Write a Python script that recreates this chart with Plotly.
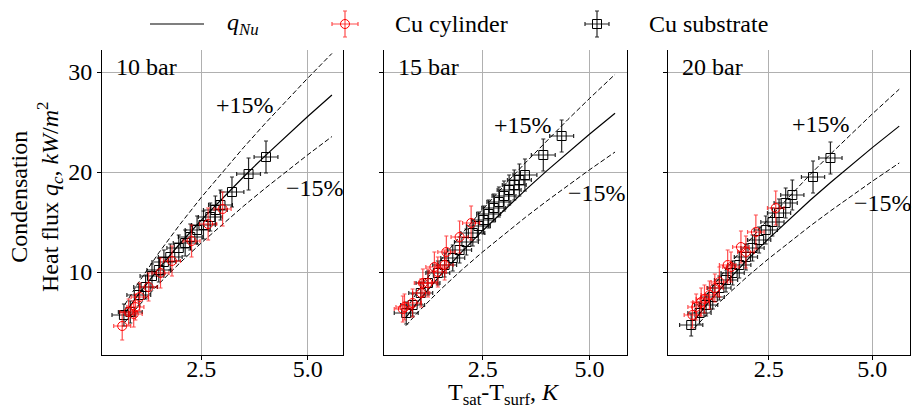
import plotly.graph_objects as go

FONT = "Liberation Serif"
W, H = 914, 412

panel_names = ["10 bar", "15 bar", "20 bar"]

# Nusselt prediction q_Nu (kW/m^2) vs subcooling (K)
nu_dT_10 = [0.7, 1.0, 1.5, 2.0, 2.5, 3.0, 3.5, 4.0, 4.5, 5.0, 5.57]
nu_q_10 = [5.85, 7.64, 10.36, 12.85, 15.19, 17.42, 19.55, 21.61, 23.60, 25.55, 27.70]
nu_dT_15 = [0.7, 1.0, 1.5, 2.0, 2.5, 3.0, 3.5, 4.0, 4.5, 5.0, 5.6]
nu_q_15 = [5.44, 7.11, 9.64, 11.96, 14.13, 16.21, 18.19, 20.11, 21.97, 23.78, 25.88]
nu_dT_20 = [0.7, 1.0, 1.5, 2.0, 2.5, 3.0, 3.5, 4.0, 4.5, 5.0, 5.65]
nu_q_20 = [5.14, 6.71, 9.09, 11.29, 13.34, 15.30, 17.17, 18.98, 20.73, 22.44, 24.59]

# Cu substrate (black squares)
sub_dT_10 = [0.68, 0.83, 1.03, 1.19, 1.34, 1.50, 1.62, 1.77, 1.97, 2.12, 2.24, 2.40, 2.55, 2.71, 2.83, 2.95, 3.22, 3.61, 4.02]
sub_q_10 = [5.7, 6.0, 7.7, 8.5, 9.6, 10.2, 11.0, 11.5, 12.4, 12.9, 13.5, 14.2, 14.7, 15.5, 16.2, 16.7, 18.0, 19.8, 21.5]
sub_qerr_10 = [1.1, 1.1, 1.1, 1.2, 1.2, 1.2, 1.2, 1.3, 1.3, 1.3, 1.3, 1.4, 1.4, 1.4, 1.4, 1.5, 1.5, 1.6, 1.6]
sub_dT_15 = [0.71, 0.86, 1.05, 1.22, 1.45, 1.61, 1.80, 1.96, 2.12, 2.27, 2.40, 2.52, 2.64, 2.76, 2.88, 3.00, 3.12, 3.24, 3.36, 3.49, 3.92, 4.35]
sub_q_15 = [5.9, 6.7, 7.9, 8.9, 9.9, 10.7, 11.4, 12.2, 13.0, 13.9, 14.6, 15.2, 15.8, 16.4, 17.0, 17.6, 18.2, 18.7, 19.2, 19.7, 21.7, 23.6]
sub_qerr_15 = [1.1, 1.1, 1.1, 1.2, 1.2, 1.2, 1.3, 1.3, 1.3, 1.3, 1.4, 1.4, 1.4, 1.4, 1.5, 1.5, 1.5, 1.5, 1.6, 1.6, 1.6, 1.6]
sub_dT_20 = [0.63, 0.83, 0.99, 1.15, 1.31, 1.47, 1.63, 1.79, 1.95, 2.11, 2.27, 2.43, 2.59, 2.75, 2.91, 3.07, 3.57, 3.99]
sub_q_20 = [4.7, 5.9, 6.7, 7.5, 8.4, 9.2, 9.9, 10.7, 11.5, 12.4, 13.2, 14.2, 15.0, 15.9, 16.9, 17.7, 19.5, 21.4]
sub_qerr_20 = [1.1, 1.1, 1.1, 1.2, 1.2, 1.2, 1.2, 1.3, 1.3, 1.3, 1.3, 1.4, 1.4, 1.4, 1.5, 1.5, 1.6, 1.6]
sub_dTerr = 0.28

# Cu cylinder (red circles)
cyl_dT_10 = [0.64, 0.79, 0.91, 0.95, 1.05, 1.26, 1.54, 1.81, 2.27, 2.66, 3.00]
cyl_q_10 = [4.6, 6.0, 5.8, 6.5, 7.5, 8.5, 9.9, 11.1, 13.1, 14.8, 16.3]
cyl_qerr_10 = [1.4, 1.3, 1.3, 1.3, 1.4, 1.4, 1.5, 1.5, 1.6, 1.6, 1.7]
cyl_dT_15 = [0.63, 0.67, 0.86, 1.06, 1.10, 1.22, 1.37, 1.45, 1.61, 1.65, 1.96, 2.23]
cyl_q_15 = [6.3, 6.5, 6.9, 7.9, 8.9, 8.9, 10.5, 10.0, 10.7, 12.0, 13.5, 14.9]
cyl_qerr_15 = [1.3, 1.3, 1.4, 1.4, 1.4, 1.4, 1.5, 1.5, 1.5, 1.6, 1.6, 1.7]
cyl_dT_20 = [0.66, 0.75, 0.87, 0.95, 1.07, 1.20, 1.31, 1.51, 1.59, 1.83, 1.95, 2.19, 2.67]
cyl_q_20 = [5.7, 6.5, 7.0, 7.3, 7.7, 8.4, 9.0, 10.7, 10.5, 12.5, 12.0, 14.0, 16.4]
cyl_qerr_20 = [1.3, 1.3, 1.4, 1.4, 1.4, 1.4, 1.5, 1.5, 1.5, 1.6, 1.6, 1.7, 1.7]
cyl_dTerr = 0.2

band = 0.15
x_ranges = [[0.165, 5.83], [0.19, 5.88], [0.07, 5.91]]
y_range = [1.7, 33.2]
x_ticks = [2.5, 5.0]
x_ticklabels = ["2.5", "5.0"]
y_ticks = [10, 20, 30]

# label positions (data coords) of the +/-15 % tags
plus_pos = [(3.53, 26.7), (3.44, 24.7), (3.77, 24.8)]
minus_pos = [(5.17, 18.4), (5.18, 17.9), (5.26, 16.9)]

# panel pixel boxes -> paper domains
px_boxes = [(102, 343), (384, 627), (668, 910)]
py_top, py_bot = 40, 355

panels = [
    (nu_dT_10, nu_q_10, sub_dT_10, sub_q_10, sub_qerr_10, cyl_dT_10, cyl_q_10, cyl_qerr_10),
    (nu_dT_15, nu_q_15, sub_dT_15, sub_q_15, sub_qerr_15, cyl_dT_15, cyl_q_15, cyl_qerr_15),
    (nu_dT_20, nu_q_20, sub_dT_20, sub_q_20, sub_qerr_20, cyl_dT_20, cyl_q_20, cyl_qerr_20),
]

fig = go.Figure()
tfont = dict(family=FONT, size=24, color="black")

for i, (ndT, nq, sdT, sq, sqe, cdT, cq, cqe) in enumerate(panels):
    n = "" if i == 0 else str(i + 1)
    xa, ya = "x" + n, "y" + n
    fig.add_trace(go.Scatter(x=ndT, y=nq, mode="lines", line=dict(color="black", width=1.2),
                             xaxis=xa, yaxis=ya, showlegend=False, hoverinfo="skip"))
    for f in (1 + band, 1 - band):
        fig.add_trace(go.Scatter(x=ndT, y=[v * f for v in nq], mode="lines",
                                 line=dict(color="black", width=1.0, dash="5px,2.5px"),
                                 xaxis=xa, yaxis=ya, showlegend=False, hoverinfo="skip"))
    fig.add_trace(go.Scatter(
        x=sdT, y=sq, mode="markers", xaxis=xa, yaxis=ya, showlegend=False,
        marker=dict(symbol="square-open", size=9, color="black", line=dict(width=1)),
        error_x=dict(type="constant", value=sub_dTerr, color="rgba(0,0,0,0.85)", thickness=1.2, width=2),
        error_y=dict(type="data", array=sqe, color="rgba(0,0,0,0.85)", thickness=1.2, width=2)))
    fig.add_trace(go.Scatter(
        x=cdT, y=cq, mode="markers", xaxis=xa, yaxis=ya, showlegend=False,
        marker=dict(symbol="circle-open", size=9, color="red", line=dict(width=1)),
        error_x=dict(type="constant", value=cyl_dTerr, color="rgba(255,0,0,0.7)", thickness=1.2, width=2),
        error_y=dict(type="data", array=cqe, color="rgba(255,0,0,0.7)", thickness=1.2, width=2)))

    x0, x1 = px_boxes[i]
    axis_common = dict(showline=True, linecolor="black", linewidth=1, mirror=True,
                       showgrid=True, gridcolor="#b0b0b0", gridwidth=0.8, zeroline=False,
                       ticks="outside", ticklen=4, tickcolor="black", tickwidth=1,
                       tickfont=tfont)
    fig.update_layout(**{
        "xaxis" + n: dict(domain=[x0 / W, x1 / W], range=x_ranges[i], anchor=ya,
                          tickvals=x_ticks, ticktext=x_ticklabels, ticklabelstandoff=-12,
                          **axis_common),
        "yaxis" + n: dict(domain=[1 - py_bot / H, 1 - py_top / H], range=y_range, anchor=xa,
                          tickvals=y_ticks, showticklabels=(i == 0), **axis_common),
    })
    fig.add_annotation(text=panel_names[i], xref="paper", yref="paper",
                       x=(x0 + 12) / W, y=1 - 67 / H, xanchor="left", yanchor="middle",
                       showarrow=False, font=tfont)
    fig.add_annotation(text="+15%", xref=xa, yref=ya, x=plus_pos[i][0], y=plus_pos[i][1],
                       showarrow=False, font=tfont)
    fig.add_annotation(text="\u221215%", xref=xa, yref=ya, x=minus_pos[i][0], y=minus_pos[i][1],
                       showarrow=False, font=tfont)

# legend drawn on a hidden pixel-unit axis across the top strip
fig.update_layout(
    xaxis4=dict(domain=[0, 1], range=[0, W], visible=False, anchor="y4"),
    yaxis4=dict(domain=[1 - 50 / H, 1], range=[50, 0], visible=False, anchor="x4"),
)
fig.add_trace(go.Scatter(x=[150, 204], y=[24, 24], mode="lines", line=dict(color="black", width=1.2),
                         xaxis="x4", yaxis="y4", showlegend=False, hoverinfo="skip", cliponaxis=False))
fig.add_trace(go.Scatter(x=[345], y=[24], mode="markers", xaxis="x4", yaxis="y4", showlegend=False,
                         cliponaxis=False,
                         marker=dict(symbol="circle-open", size=9, color="red", line=dict(width=1)),
                         error_x=dict(type="constant", value=13, color="rgba(255,0,0,0.7)", thickness=1.2, width=2),
                         error_y=dict(type="constant", value=13, color="rgba(255,0,0,0.7)", thickness=1.2, width=2)))
fig.add_trace(go.Scatter(x=[597], y=[24], mode="markers", xaxis="x4", yaxis="y4", showlegend=False,
                         cliponaxis=False,
                         marker=dict(symbol="square-open", size=9, color="black", line=dict(width=1)),
                         error_x=dict(type="constant", value=12, color="rgba(0,0,0,0.85)", thickness=1.2, width=2),
                         error_y=dict(type="constant", value=13, color="rgba(0,0,0,0.85)", thickness=1.2, width=2)))
for txt, px in [("<i>q</i><sub><i>Nu</i></sub>", 225), ("Cu cylinder", 393), ("Cu substrate", 647)]:
    fig.add_annotation(text=txt, xref="paper", yref="paper", x=px / W, y=1 - 24 / H,
                       xanchor="left", yanchor="middle", showarrow=False, font=tfont)

# axis titles
fig.add_annotation(text="Condensation<br>Heat flux <i>q<sub>c</sub></i>, <i>kW</i>/<i>m</i><sup>2</sup>",
                   xref="paper", yref="paper", x=36 / W, y=1 - 197 / H, textangle=-90,
                   xanchor="center", yanchor="middle", showarrow=False, font=tfont)
fig.add_annotation(text="T<sub>sat</sub>-T<sub>surf</sub>, <i>K</i>",
                   xref="paper", yref="paper", x=504 / W, y=1 - 394 / H,
                   xanchor="center", yanchor="middle", showarrow=False, font=tfont)

fig.update_layout(width=W, height=H, margin=dict(l=0, r=0, t=0, b=0),
                  paper_bgcolor="white", plot_bgcolor="white", template="none",
                  font=tfont, showlegend=False)
fig.write_html("out.html", post_script="document.body.style.margin='0';",
               config={"displayModeBar": False})
